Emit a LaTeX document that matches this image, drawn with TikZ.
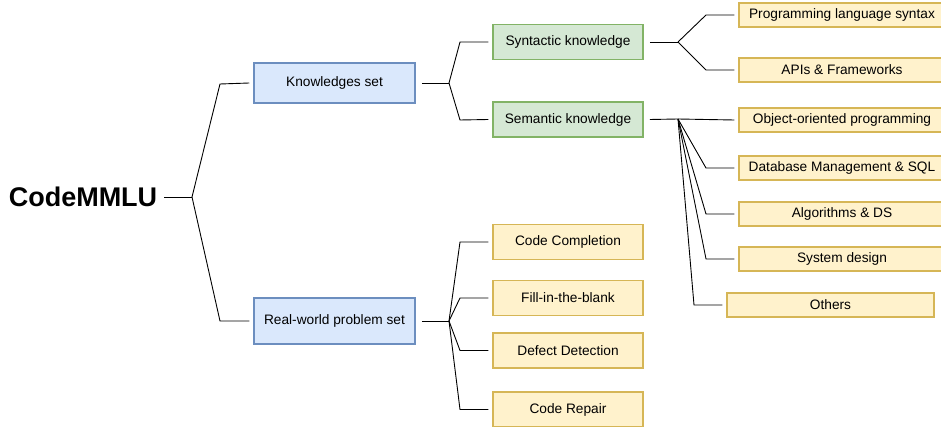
\documentclass[tikz,border=0pt]{standalone}
\usepackage{fontspec}
\setmainfont{Liberation Sans}
\usetikzlibrary{positioning}
\definecolor{setfill}{HTML}{DAE8FC}
\definecolor{setline}{HTML}{6C8EBF}
\definecolor{kfill}{HTML}{D5E8D4}
\definecolor{kline}{HTML}{82B366}
\definecolor{tfill}{HTML}{FFF2CC}
\definecolor{tline}{HTML}{D6B656}

\begin{document}
\begin{tikzpicture}[x=1pt,y=-1pt]
    \tikzset{
        box/.style={draw, line width=1.5pt, inner sep=0pt, font=\fontsize{13.7}{16}\selectfont},
        setbox/.style={box, fill=setfill, draw=setline, minimum width=161pt},
        kbox/.style={box, fill=kfill, draw=kline, minimum width=150pt, minimum height=35pt},
        topic/.style={box, fill=tfill, draw=tline, minimum width=206pt, minimum height=24pt},
        task/.style={box, fill=tfill, draw=tline, minimum width=150pt, minimum height=35pt},
        link/.style={line width=0.9pt},}
    \useasboundingbox (0,0) rectangle (941,427);
    % root and the two sets
    \node [font=\fontsize{27}{30}\bfseries\selectfont, inner sep=0pt] (cm) at (83,197) {CodeMMLU};
    \node [setbox, minimum height=40pt] (ks) at (334.5,83) {Knowledges set};
    \node [setbox, minimum height=46pt] (rw) at (334.5,321) {Real-world problem set};
    % knowledge kinds
    \node [kbox] (syn) at (568,42) {Syntactic knowledge};
    \node [kbox] (sem) at (568,119.5) {Semantic knowledge};
    % topics
    \node [topic] (pls) at (842,15) {Programming language syntax};
    \node [topic] (api) at (842,70) {APIs \& Frameworks};
    \node [topic] (oop) at (842,120) {Object-oriented programming};
    \node [topic] (db) at (842,168) {Database Management \& SQL};
    \node [topic] (alg) at (842,214) {Algorithms \& DS};
    \node [topic] (sys) at (842,259) {System design};
    \node [topic, minimum width=207pt] (oth) at (830.5,305) {Others};
    % tasks
    \node [task] (cc) at (568,242) {Code Completion};
    \node [task] (fb) at (568,298) {Fill-in-the-blank};
    \node [task] (dd) at (568,350.5) {Defect Detection};
    \node [task] (cr) at (568,409.5) {Code Repair};
    % branch points
    \coordinate (b0) at (192,197);
    \coordinate (b1) at (449,83);
    \coordinate (b2) at (449,321);
    \coordinate (b3) at (678,42);
    \coordinate (b4) at (678,119);
    \draw [link] ([xshift=7pt]cm.east) -- (b0);
    \draw [link] (b0) -- (220,84) -- ([xshift=-4pt]ks.west);
    \draw [link] (b0) -- (220,321) -- ([xshift=-4pt]rw.west);
    \draw [link] ([xshift=6pt]ks.east) -- (b1);
    \draw [link] (b1) -- (460,42) -- ([xshift=-4pt]syn.west);
    \draw [link] (b1) -- (460,120) -- ([xshift=-4pt]sem.west);
    \draw [link] ([xshift=6pt]rw.east) -- (b2);
    \foreach \t in {cc,fb,dd,cr}
        \draw [link] (b2) -- (460,0 |- \t.west) -- ([xshift=-4pt]\t.west);
    \draw [link] ([xshift=6pt]syn.east) -- (b3);
    \foreach \t in {pls,api}
        \draw [link] (b3) -- (706,0 |- \t.west) -- ([xshift=-4pt]\t.west);
    \draw [link] ([xshift=6pt]sem.east) -- (b4);
    \draw [link] (b4) -- ([xshift=-4pt]oop.west);
    \foreach \t in {db,alg,sys}
        \draw [link] (b4) -- (706,0 |- \t.west) -- ([xshift=-4pt]\t.west);
    \draw [link] (b4) -- (694,305) -- ([xshift=-4pt]oth.west);
\end{tikzpicture}
\end{document}
